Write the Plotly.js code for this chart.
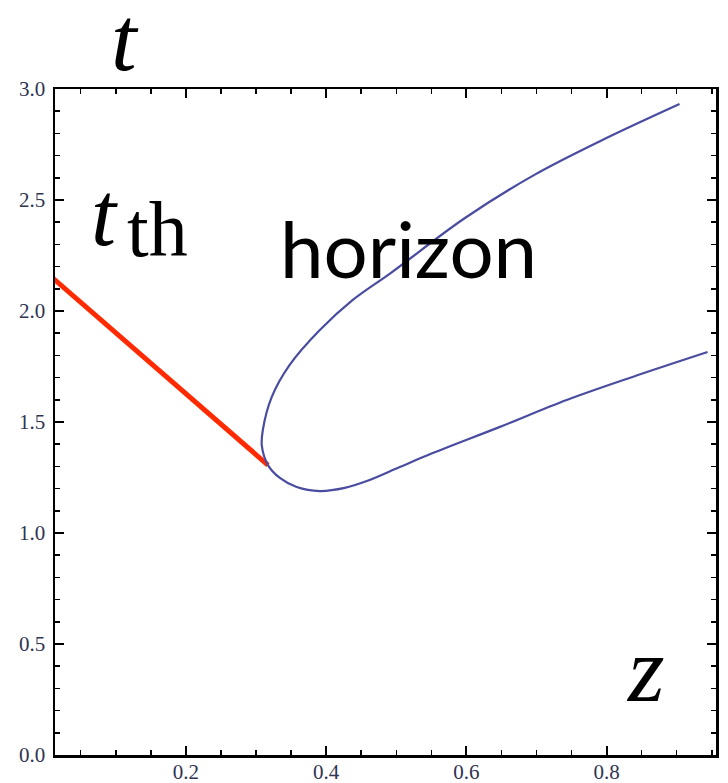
<!DOCTYPE html>
<html>
<head>
<meta charset="utf-8">
<script src="https://cdn.plot.ly/plotly-3.0.1.min.js"></script>
<style>
  html, body { margin: 0; padding: 0; background: #ffffff; }
  #chart { width: 728px; height: 783px; }
</style>
</head>
<body>
<div id="chart"></div>
<script>
// Horizon curve t(z): upper branch folds back near z ≈ 0.31, then the lower branch rises again
const horizonZ = [0.904, 0.794, 0.697, 0.598, 0.492, 0.438, 0.391, 0.348, 0.3225, 0.3097, 0.3083, 0.317, 0.334, 0.358, 0.391, 0.4265, 0.458, 0.505, 0.552, 0.647, 0.743, 0.837, 0.944];
const horizonT = [2.932, 2.770, 2.613, 2.419, 2.171, 2.050, 1.914, 1.757, 1.613, 1.464, 1.392, 1.306, 1.248, 1.207, 1.189, 1.203, 1.234, 1.297, 1.360, 1.477, 1.599, 1.703, 1.815];

// Threshold line t_th(z), ending where it meets the horizon
const thresholdZ = [0.0, 0.317];
const thresholdT = [2.176, 1.306];

// Axis ticks
const zTickVals = [0.2, 0.4, 0.6, 0.8];
const tTickVals = [0.0, 0.5, 1.0, 1.5, 2.0, 2.5, 3.0];

const serif = 'Liberation Serif, Times New Roman, serif';
const tickFont = { family: serif, size: 21, color: '#2e3452' };

const traces = [
  {
    x: thresholdZ, y: thresholdT,
    type: 'scatter', mode: 'lines',
    line: { color: '#ff2a00', width: 5 },
    hoverinfo: 'skip'
  },
  {
    x: horizonZ, y: horizonT,
    type: 'scatter', mode: 'lines',
    line: { color: '#4a4ca0', width: 2.2, shape: 'spline', smoothing: 1 },
    hoverinfo: 'skip'
  }
];

const axisCommon = {
  showline: true, linecolor: '#000000', linewidth: 2.5,
  mirror: 'ticks', ticks: 'inside', ticklen: 9, tickwidth: 2, tickcolor: '#000000',
  showgrid: false, zeroline: false,
  tickfont: tickFont, tickformat: '.1f'
};

// Paper coordinates from pixel positions inside the 728x783 figure
const plotL = 55, plotR = 716, plotT = 89, plotB = 755;
const px = v => (v - plotL) / (plotR - plotL);
const py = v => (plotB - v) / (plotB - plotT);

const layout = {
  width: 728, height: 783,
  margin: { l: plotL, r: 728 - plotR, t: plotT, b: 783 - plotB },
  paper_bgcolor: '#ffffff', plot_bgcolor: '#ffffff',
  showlegend: false,
  xaxis: Object.assign({}, axisCommon, {
    range: [0.0133, 0.956],
    tickmode: 'array', tickvals: zTickVals,
    minor: { dtick: 0.05, tick0: 0, ticks: 'inside', ticklen: 5, tickwidth: 1.5, tickcolor: '#000000' },
    ticklabelstandoff: -4
  }),
  yaxis: Object.assign({}, axisCommon, {
    range: [0, 3.0],
    tickmode: 'array', tickvals: tTickVals,
    minor: { dtick: 0.1, tick0: 0, ticks: 'inside', ticklen: 5, tickwidth: 1.5, tickcolor: '#000000' },
    ticklabelstandoff: 3
  }),
  annotations: [
    { xref: 'paper', yref: 'paper', x: px(125), y: py(39),
      xanchor: 'center', yanchor: 'middle', showarrow: false,
      text: '<i>t</i>', font: { family: serif, size: 92, color: '#000000' } },
    { xref: 'paper', yref: 'paper', x: px(104), y: py(215),
      xanchor: 'center', yanchor: 'middle', showarrow: false,
      text: '<i>t</i>', font: { family: serif, size: 90, color: '#000000' } },
    { xref: 'paper', yref: 'paper', x: px(157), y: py(230),
      xanchor: 'center', yanchor: 'middle', showarrow: false,
      text: 'th', font: { family: serif, size: 78, color: '#000000' } },
    { xref: 'paper', yref: 'paper', x: px(408), y: py(248),
      xanchor: 'center', yanchor: 'middle', showarrow: false,
      text: 'horizon', font: { family: 'Lato, Open Sans, sans-serif', size: 78, color: '#000000' } },
    { xref: 'paper', yref: 'paper', x: px(645), y: py(669),
      xanchor: 'center', yanchor: 'middle', showarrow: false,
      text: '<i>z</i>', font: { family: serif, size: 94, color: '#000000' } }
  ]
};

Plotly.newPlot('chart', traces, layout, { staticPlot: true, displayModeBar: false });
</script>
</body>
</html>
